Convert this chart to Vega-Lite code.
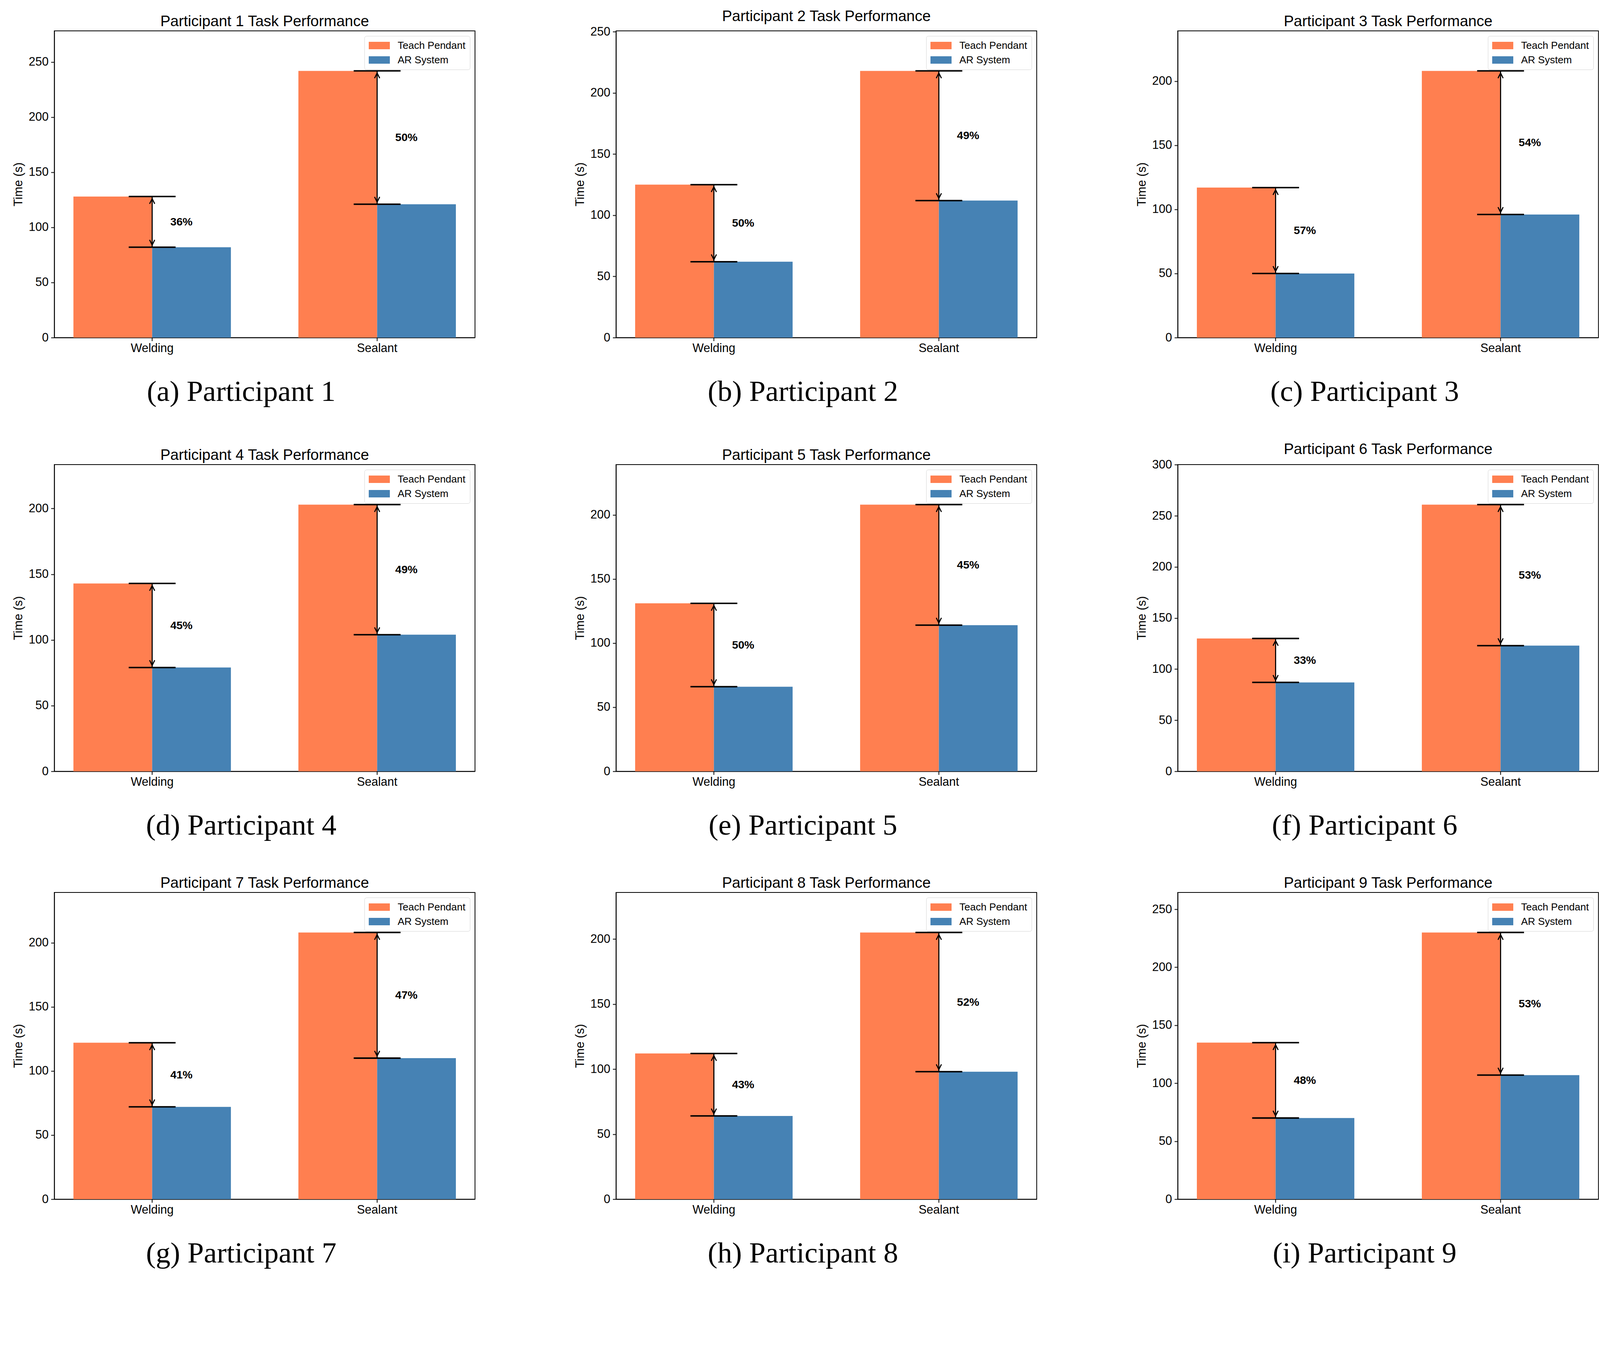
{
  "$schema": "https://vega.github.io/schema/vega-lite/v6.json",
  "background": "white",
  "padding": {"left": 30, "top": 21, "right": 5, "bottom": 5},
  "datasets": {
    "times": [
      {"participant": 1, "task": "Welding", "method": "Teach Pendant", "time": 128},
      {"participant": 1, "task": "Welding", "method": "AR System", "time": 82, "reduction": 0.36},
      {"participant": 1, "task": "Sealant", "method": "Teach Pendant", "time": 242},
      {"participant": 1, "task": "Sealant", "method": "AR System", "time": 121, "reduction": 0.50},
      {"participant": 2, "task": "Welding", "method": "Teach Pendant", "time": 125},
      {"participant": 2, "task": "Welding", "method": "AR System", "time": 62, "reduction": 0.50},
      {"participant": 2, "task": "Sealant", "method": "Teach Pendant", "time": 218},
      {"participant": 2, "task": "Sealant", "method": "AR System", "time": 112, "reduction": 0.49},
      {"participant": 3, "task": "Welding", "method": "Teach Pendant", "time": 117},
      {"participant": 3, "task": "Welding", "method": "AR System", "time": 50, "reduction": 0.57},
      {"participant": 3, "task": "Sealant", "method": "Teach Pendant", "time": 208},
      {"participant": 3, "task": "Sealant", "method": "AR System", "time": 96, "reduction": 0.54},
      {"participant": 4, "task": "Welding", "method": "Teach Pendant", "time": 143},
      {"participant": 4, "task": "Welding", "method": "AR System", "time": 79, "reduction": 0.45},
      {"participant": 4, "task": "Sealant", "method": "Teach Pendant", "time": 203},
      {"participant": 4, "task": "Sealant", "method": "AR System", "time": 104, "reduction": 0.49},
      {"participant": 5, "task": "Welding", "method": "Teach Pendant", "time": 131},
      {"participant": 5, "task": "Welding", "method": "AR System", "time": 66, "reduction": 0.50},
      {"participant": 5, "task": "Sealant", "method": "Teach Pendant", "time": 208},
      {"participant": 5, "task": "Sealant", "method": "AR System", "time": 114, "reduction": 0.45},
      {"participant": 6, "task": "Welding", "method": "Teach Pendant", "time": 130},
      {"participant": 6, "task": "Welding", "method": "AR System", "time": 87, "reduction": 0.33},
      {"participant": 6, "task": "Sealant", "method": "Teach Pendant", "time": 261},
      {"participant": 6, "task": "Sealant", "method": "AR System", "time": 123, "reduction": 0.53},
      {"participant": 7, "task": "Welding", "method": "Teach Pendant", "time": 122},
      {"participant": 7, "task": "Welding", "method": "AR System", "time": 72, "reduction": 0.41},
      {"participant": 7, "task": "Sealant", "method": "Teach Pendant", "time": 208},
      {"participant": 7, "task": "Sealant", "method": "AR System", "time": 110, "reduction": 0.47},
      {"participant": 8, "task": "Welding", "method": "Teach Pendant", "time": 112},
      {"participant": 8, "task": "Welding", "method": "AR System", "time": 64, "reduction": 0.43},
      {"participant": 8, "task": "Sealant", "method": "Teach Pendant", "time": 205},
      {"participant": 8, "task": "Sealant", "method": "AR System", "time": 98, "reduction": 0.52},
      {"participant": 9, "task": "Welding", "method": "Teach Pendant", "time": 135},
      {"participant": 9, "task": "Welding", "method": "AR System", "time": 70, "reduction": 0.48},
      {"participant": 9, "task": "Sealant", "method": "Teach Pendant", "time": 230},
      {"participant": 9, "task": "Sealant", "method": "AR System", "time": 107, "reduction": 0.53}
    ]
  },
  "columns": 3,
  "spacing": {"row": 87, "column": 251},
  "resolve": {
    "scale": {"x": "independent", "y": "independent", "color": "independent"},
    "legend": {"color": "independent"}
  },
  "concat": [
    {
      "width": 1077, "height": 785,
      "title": "Participant 1 Task Performance",
      "data": {"name": "times"},
      "transform": [{"filter": "datum.participant == 1"}],
      "layer": [
        {"mark": "bar", "encoding": {
          "x": {"field": "task", "type": "nominal", "sort": ["Welding", "Sealant"], "scale": {"paddingInner": 0.3, "paddingOuter": 0.085}, "axis": {"title": "(a) Participant 1"}},
          "xOffset": {"field": "method", "sort": ["Teach Pendant", "AR System"], "scale": {"paddingInner": 0, "paddingOuter": 0}},
          "y": {"field": "time", "type": "quantitative", "scale": {"domain": [0, 278.3], "nice": false}, "axis": {"title": "Time (s)", "values": [0, 50, 100, 150, 200, 250, 300]}},
          "color": {"field": "method", "type": "nominal", "scale": {"domain": ["Teach Pendant", "AR System"], "range": ["#FF7F50", "#4682B4"]}, "legend": {"title": null, "orient": "top-right", "offset": 13, "symbolType": "M-1,-0.7H3V0.7H-1Z", "symbolSize": 729, "symbolStrokeWidth": 0, "symbolOpacity": 1, "labelFontSize": 26, "labelLimit": 400, "labelColor": "black", "labelOffset": 47, "fillColor": "white", "strokeColor": "#d4d4d4", "cornerRadius": 5, "padding": 11, "rowPadding": 10}}
        }},
        {"mark": {"type": "tick", "size": 120, "thickness": 3.8, "color": "black", "opacity": 1}, "encoding": {
          "x": {"field": "task", "type": "nominal", "sort": ["Welding", "Sealant"]},
          "y": {"field": "time", "type": "quantitative"}
        }},
        {
          "transform": [{"aggregate": [{"op": "max", "field": "time", "as": "hi"}, {"op": "min", "field": "time", "as": "lo"}, {"op": "mean", "field": "time", "as": "mid"}, {"op": "max", "field": "reduction", "as": "reduction"}], "groupby": ["task"]}],
          "encoding": {"x": {"field": "task", "type": "nominal", "sort": ["Welding", "Sealant"], "bandPosition": 0.5}},
          "layer": [
            {"mark": {"type": "rule", "strokeWidth": 2.8, "color": "black"}, "encoding": {"y": {"field": "hi", "type": "quantitative"}, "y2": {"field": "lo"}}},
            {"mark": {"type": "point", "shape": "M-0.5,1L0,0L0.5,1", "size": 690, "filled": false, "stroke": "black", "strokeWidth": 2.8, "opacity": 1, "yOffset": 5.6}, "encoding": {"y": {"field": "hi", "type": "quantitative"}}},
            {"mark": {"type": "point", "shape": "M-0.5,-1L0,0L0.5,-1", "size": 690, "filled": false, "stroke": "black", "strokeWidth": 2.8, "opacity": 1, "yOffset": -5.6}, "encoding": {"y": {"field": "lo", "type": "quantitative"}}},
            {"mark": {"type": "text", "align": "left", "baseline": "middle", "fontWeight": "bold", "fontSize": 28.5, "color": "black"}, "encoding": {
              "x": {"field": "task", "type": "nominal", "sort": ["Welding", "Sealant"], "bandPosition": 0.615},
              "y": {"field": "mid", "type": "quantitative"},
              "text": {"field": "reduction", "type": "quantitative", "format": ".0%"}
            }}
          ]
        }
      ]
    },
    {
      "width": 1077, "height": 785,
      "title": "Participant 2 Task Performance",
      "data": {"name": "times"},
      "transform": [{"filter": "datum.participant == 2"}],
      "layer": [
        {"mark": "bar", "encoding": {
          "x": {"field": "task", "type": "nominal", "sort": ["Welding", "Sealant"], "scale": {"paddingInner": 0.3, "paddingOuter": 0.085}, "axis": {"title": "(b) Participant 2"}},
          "xOffset": {"field": "method", "sort": ["Teach Pendant", "AR System"], "scale": {"paddingInner": 0, "paddingOuter": 0}},
          "y": {"field": "time", "type": "quantitative", "scale": {"domain": [0, 250.7], "nice": false}, "axis": {"title": "Time (s)", "values": [0, 50, 100, 150, 200, 250, 300]}},
          "color": {"field": "method", "type": "nominal", "scale": {"domain": ["Teach Pendant", "AR System"], "range": ["#FF7F50", "#4682B4"]}, "legend": {"title": null, "orient": "top-right", "offset": 13, "symbolType": "M-1,-0.7H3V0.7H-1Z", "symbolSize": 729, "symbolStrokeWidth": 0, "symbolOpacity": 1, "labelFontSize": 26, "labelLimit": 400, "labelColor": "black", "labelOffset": 47, "fillColor": "white", "strokeColor": "#d4d4d4", "cornerRadius": 5, "padding": 11, "rowPadding": 10}}
        }},
        {"mark": {"type": "tick", "size": 120, "thickness": 3.8, "color": "black", "opacity": 1}, "encoding": {
          "x": {"field": "task", "type": "nominal", "sort": ["Welding", "Sealant"]},
          "y": {"field": "time", "type": "quantitative"}
        }},
        {
          "transform": [{"aggregate": [{"op": "max", "field": "time", "as": "hi"}, {"op": "min", "field": "time", "as": "lo"}, {"op": "mean", "field": "time", "as": "mid"}, {"op": "max", "field": "reduction", "as": "reduction"}], "groupby": ["task"]}],
          "encoding": {"x": {"field": "task", "type": "nominal", "sort": ["Welding", "Sealant"], "bandPosition": 0.5}},
          "layer": [
            {"mark": {"type": "rule", "strokeWidth": 2.8, "color": "black"}, "encoding": {"y": {"field": "hi", "type": "quantitative"}, "y2": {"field": "lo"}}},
            {"mark": {"type": "point", "shape": "M-0.5,1L0,0L0.5,1", "size": 690, "filled": false, "stroke": "black", "strokeWidth": 2.8, "opacity": 1, "yOffset": 5.6}, "encoding": {"y": {"field": "hi", "type": "quantitative"}}},
            {"mark": {"type": "point", "shape": "M-0.5,-1L0,0L0.5,-1", "size": 690, "filled": false, "stroke": "black", "strokeWidth": 2.8, "opacity": 1, "yOffset": -5.6}, "encoding": {"y": {"field": "lo", "type": "quantitative"}}},
            {"mark": {"type": "text", "align": "left", "baseline": "middle", "fontWeight": "bold", "fontSize": 28.5, "color": "black"}, "encoding": {
              "x": {"field": "task", "type": "nominal", "sort": ["Welding", "Sealant"], "bandPosition": 0.615},
              "y": {"field": "mid", "type": "quantitative"},
              "text": {"field": "reduction", "type": "quantitative", "format": ".0%"}
            }}
          ]
        }
      ]
    },
    {
      "width": 1077, "height": 785,
      "title": "Participant 3 Task Performance",
      "data": {"name": "times"},
      "transform": [{"filter": "datum.participant == 3"}],
      "layer": [
        {"mark": "bar", "encoding": {
          "x": {"field": "task", "type": "nominal", "sort": ["Welding", "Sealant"], "scale": {"paddingInner": 0.3, "paddingOuter": 0.085}, "axis": {"title": "(c) Participant 3"}},
          "xOffset": {"field": "method", "sort": ["Teach Pendant", "AR System"], "scale": {"paddingInner": 0, "paddingOuter": 0}},
          "y": {"field": "time", "type": "quantitative", "scale": {"domain": [0, 239.2], "nice": false}, "axis": {"title": "Time (s)", "values": [0, 50, 100, 150, 200, 250, 300]}},
          "color": {"field": "method", "type": "nominal", "scale": {"domain": ["Teach Pendant", "AR System"], "range": ["#FF7F50", "#4682B4"]}, "legend": {"title": null, "orient": "top-right", "offset": 13, "symbolType": "M-1,-0.7H3V0.7H-1Z", "symbolSize": 729, "symbolStrokeWidth": 0, "symbolOpacity": 1, "labelFontSize": 26, "labelLimit": 400, "labelColor": "black", "labelOffset": 47, "fillColor": "white", "strokeColor": "#d4d4d4", "cornerRadius": 5, "padding": 11, "rowPadding": 10}}
        }},
        {"mark": {"type": "tick", "size": 120, "thickness": 3.8, "color": "black", "opacity": 1}, "encoding": {
          "x": {"field": "task", "type": "nominal", "sort": ["Welding", "Sealant"]},
          "y": {"field": "time", "type": "quantitative"}
        }},
        {
          "transform": [{"aggregate": [{"op": "max", "field": "time", "as": "hi"}, {"op": "min", "field": "time", "as": "lo"}, {"op": "mean", "field": "time", "as": "mid"}, {"op": "max", "field": "reduction", "as": "reduction"}], "groupby": ["task"]}],
          "encoding": {"x": {"field": "task", "type": "nominal", "sort": ["Welding", "Sealant"], "bandPosition": 0.5}},
          "layer": [
            {"mark": {"type": "rule", "strokeWidth": 2.8, "color": "black"}, "encoding": {"y": {"field": "hi", "type": "quantitative"}, "y2": {"field": "lo"}}},
            {"mark": {"type": "point", "shape": "M-0.5,1L0,0L0.5,1", "size": 690, "filled": false, "stroke": "black", "strokeWidth": 2.8, "opacity": 1, "yOffset": 5.6}, "encoding": {"y": {"field": "hi", "type": "quantitative"}}},
            {"mark": {"type": "point", "shape": "M-0.5,-1L0,0L0.5,-1", "size": 690, "filled": false, "stroke": "black", "strokeWidth": 2.8, "opacity": 1, "yOffset": -5.6}, "encoding": {"y": {"field": "lo", "type": "quantitative"}}},
            {"mark": {"type": "text", "align": "left", "baseline": "middle", "fontWeight": "bold", "fontSize": 28.5, "color": "black"}, "encoding": {
              "x": {"field": "task", "type": "nominal", "sort": ["Welding", "Sealant"], "bandPosition": 0.615},
              "y": {"field": "mid", "type": "quantitative"},
              "text": {"field": "reduction", "type": "quantitative", "format": ".0%"}
            }}
          ]
        }
      ]
    },
    {
      "width": 1077, "height": 785,
      "title": "Participant 4 Task Performance",
      "data": {"name": "times"},
      "transform": [{"filter": "datum.participant == 4"}],
      "layer": [
        {"mark": "bar", "encoding": {
          "x": {"field": "task", "type": "nominal", "sort": ["Welding", "Sealant"], "scale": {"paddingInner": 0.3, "paddingOuter": 0.085}, "axis": {"title": "(d) Participant 4"}},
          "xOffset": {"field": "method", "sort": ["Teach Pendant", "AR System"], "scale": {"paddingInner": 0, "paddingOuter": 0}},
          "y": {"field": "time", "type": "quantitative", "scale": {"domain": [0, 233.45], "nice": false}, "axis": {"title": "Time (s)", "values": [0, 50, 100, 150, 200, 250, 300]}},
          "color": {"field": "method", "type": "nominal", "scale": {"domain": ["Teach Pendant", "AR System"], "range": ["#FF7F50", "#4682B4"]}, "legend": {"title": null, "orient": "top-right", "offset": 13, "symbolType": "M-1,-0.7H3V0.7H-1Z", "symbolSize": 729, "symbolStrokeWidth": 0, "symbolOpacity": 1, "labelFontSize": 26, "labelLimit": 400, "labelColor": "black", "labelOffset": 47, "fillColor": "white", "strokeColor": "#d4d4d4", "cornerRadius": 5, "padding": 11, "rowPadding": 10}}
        }},
        {"mark": {"type": "tick", "size": 120, "thickness": 3.8, "color": "black", "opacity": 1}, "encoding": {
          "x": {"field": "task", "type": "nominal", "sort": ["Welding", "Sealant"]},
          "y": {"field": "time", "type": "quantitative"}
        }},
        {
          "transform": [{"aggregate": [{"op": "max", "field": "time", "as": "hi"}, {"op": "min", "field": "time", "as": "lo"}, {"op": "mean", "field": "time", "as": "mid"}, {"op": "max", "field": "reduction", "as": "reduction"}], "groupby": ["task"]}],
          "encoding": {"x": {"field": "task", "type": "nominal", "sort": ["Welding", "Sealant"], "bandPosition": 0.5}},
          "layer": [
            {"mark": {"type": "rule", "strokeWidth": 2.8, "color": "black"}, "encoding": {"y": {"field": "hi", "type": "quantitative"}, "y2": {"field": "lo"}}},
            {"mark": {"type": "point", "shape": "M-0.5,1L0,0L0.5,1", "size": 690, "filled": false, "stroke": "black", "strokeWidth": 2.8, "opacity": 1, "yOffset": 5.6}, "encoding": {"y": {"field": "hi", "type": "quantitative"}}},
            {"mark": {"type": "point", "shape": "M-0.5,-1L0,0L0.5,-1", "size": 690, "filled": false, "stroke": "black", "strokeWidth": 2.8, "opacity": 1, "yOffset": -5.6}, "encoding": {"y": {"field": "lo", "type": "quantitative"}}},
            {"mark": {"type": "text", "align": "left", "baseline": "middle", "fontWeight": "bold", "fontSize": 28.5, "color": "black"}, "encoding": {
              "x": {"field": "task", "type": "nominal", "sort": ["Welding", "Sealant"], "bandPosition": 0.615},
              "y": {"field": "mid", "type": "quantitative"},
              "text": {"field": "reduction", "type": "quantitative", "format": ".0%"}
            }}
          ]
        }
      ]
    },
    {
      "width": 1077, "height": 785,
      "title": "Participant 5 Task Performance",
      "data": {"name": "times"},
      "transform": [{"filter": "datum.participant == 5"}],
      "layer": [
        {"mark": "bar", "encoding": {
          "x": {"field": "task", "type": "nominal", "sort": ["Welding", "Sealant"], "scale": {"paddingInner": 0.3, "paddingOuter": 0.085}, "axis": {"title": "(e) Participant 5"}},
          "xOffset": {"field": "method", "sort": ["Teach Pendant", "AR System"], "scale": {"paddingInner": 0, "paddingOuter": 0}},
          "y": {"field": "time", "type": "quantitative", "scale": {"domain": [0, 239.2], "nice": false}, "axis": {"title": "Time (s)", "values": [0, 50, 100, 150, 200, 250, 300]}},
          "color": {"field": "method", "type": "nominal", "scale": {"domain": ["Teach Pendant", "AR System"], "range": ["#FF7F50", "#4682B4"]}, "legend": {"title": null, "orient": "top-right", "offset": 13, "symbolType": "M-1,-0.7H3V0.7H-1Z", "symbolSize": 729, "symbolStrokeWidth": 0, "symbolOpacity": 1, "labelFontSize": 26, "labelLimit": 400, "labelColor": "black", "labelOffset": 47, "fillColor": "white", "strokeColor": "#d4d4d4", "cornerRadius": 5, "padding": 11, "rowPadding": 10}}
        }},
        {"mark": {"type": "tick", "size": 120, "thickness": 3.8, "color": "black", "opacity": 1}, "encoding": {
          "x": {"field": "task", "type": "nominal", "sort": ["Welding", "Sealant"]},
          "y": {"field": "time", "type": "quantitative"}
        }},
        {
          "transform": [{"aggregate": [{"op": "max", "field": "time", "as": "hi"}, {"op": "min", "field": "time", "as": "lo"}, {"op": "mean", "field": "time", "as": "mid"}, {"op": "max", "field": "reduction", "as": "reduction"}], "groupby": ["task"]}],
          "encoding": {"x": {"field": "task", "type": "nominal", "sort": ["Welding", "Sealant"], "bandPosition": 0.5}},
          "layer": [
            {"mark": {"type": "rule", "strokeWidth": 2.8, "color": "black"}, "encoding": {"y": {"field": "hi", "type": "quantitative"}, "y2": {"field": "lo"}}},
            {"mark": {"type": "point", "shape": "M-0.5,1L0,0L0.5,1", "size": 690, "filled": false, "stroke": "black", "strokeWidth": 2.8, "opacity": 1, "yOffset": 5.6}, "encoding": {"y": {"field": "hi", "type": "quantitative"}}},
            {"mark": {"type": "point", "shape": "M-0.5,-1L0,0L0.5,-1", "size": 690, "filled": false, "stroke": "black", "strokeWidth": 2.8, "opacity": 1, "yOffset": -5.6}, "encoding": {"y": {"field": "lo", "type": "quantitative"}}},
            {"mark": {"type": "text", "align": "left", "baseline": "middle", "fontWeight": "bold", "fontSize": 28.5, "color": "black"}, "encoding": {
              "x": {"field": "task", "type": "nominal", "sort": ["Welding", "Sealant"], "bandPosition": 0.615},
              "y": {"field": "mid", "type": "quantitative"},
              "text": {"field": "reduction", "type": "quantitative", "format": ".0%"}
            }}
          ]
        }
      ]
    },
    {
      "width": 1077, "height": 785,
      "title": "Participant 6 Task Performance",
      "data": {"name": "times"},
      "transform": [{"filter": "datum.participant == 6"}],
      "layer": [
        {"mark": "bar", "encoding": {
          "x": {"field": "task", "type": "nominal", "sort": ["Welding", "Sealant"], "scale": {"paddingInner": 0.3, "paddingOuter": 0.085}, "axis": {"title": "(f) Participant 6"}},
          "xOffset": {"field": "method", "sort": ["Teach Pendant", "AR System"], "scale": {"paddingInner": 0, "paddingOuter": 0}},
          "y": {"field": "time", "type": "quantitative", "scale": {"domain": [0, 300.15], "nice": false}, "axis": {"title": "Time (s)", "values": [0, 50, 100, 150, 200, 250, 300]}},
          "color": {"field": "method", "type": "nominal", "scale": {"domain": ["Teach Pendant", "AR System"], "range": ["#FF7F50", "#4682B4"]}, "legend": {"title": null, "orient": "top-right", "offset": 13, "symbolType": "M-1,-0.7H3V0.7H-1Z", "symbolSize": 729, "symbolStrokeWidth": 0, "symbolOpacity": 1, "labelFontSize": 26, "labelLimit": 400, "labelColor": "black", "labelOffset": 47, "fillColor": "white", "strokeColor": "#d4d4d4", "cornerRadius": 5, "padding": 11, "rowPadding": 10}}
        }},
        {"mark": {"type": "tick", "size": 120, "thickness": 3.8, "color": "black", "opacity": 1}, "encoding": {
          "x": {"field": "task", "type": "nominal", "sort": ["Welding", "Sealant"]},
          "y": {"field": "time", "type": "quantitative"}
        }},
        {
          "transform": [{"aggregate": [{"op": "max", "field": "time", "as": "hi"}, {"op": "min", "field": "time", "as": "lo"}, {"op": "mean", "field": "time", "as": "mid"}, {"op": "max", "field": "reduction", "as": "reduction"}], "groupby": ["task"]}],
          "encoding": {"x": {"field": "task", "type": "nominal", "sort": ["Welding", "Sealant"], "bandPosition": 0.5}},
          "layer": [
            {"mark": {"type": "rule", "strokeWidth": 2.8, "color": "black"}, "encoding": {"y": {"field": "hi", "type": "quantitative"}, "y2": {"field": "lo"}}},
            {"mark": {"type": "point", "shape": "M-0.5,1L0,0L0.5,1", "size": 690, "filled": false, "stroke": "black", "strokeWidth": 2.8, "opacity": 1, "yOffset": 5.6}, "encoding": {"y": {"field": "hi", "type": "quantitative"}}},
            {"mark": {"type": "point", "shape": "M-0.5,-1L0,0L0.5,-1", "size": 690, "filled": false, "stroke": "black", "strokeWidth": 2.8, "opacity": 1, "yOffset": -5.6}, "encoding": {"y": {"field": "lo", "type": "quantitative"}}},
            {"mark": {"type": "text", "align": "left", "baseline": "middle", "fontWeight": "bold", "fontSize": 28.5, "color": "black"}, "encoding": {
              "x": {"field": "task", "type": "nominal", "sort": ["Welding", "Sealant"], "bandPosition": 0.615},
              "y": {"field": "mid", "type": "quantitative"},
              "text": {"field": "reduction", "type": "quantitative", "format": ".0%"}
            }}
          ]
        }
      ]
    },
    {
      "width": 1077, "height": 785,
      "title": "Participant 7 Task Performance",
      "data": {"name": "times"},
      "transform": [{"filter": "datum.participant == 7"}],
      "layer": [
        {"mark": "bar", "encoding": {
          "x": {"field": "task", "type": "nominal", "sort": ["Welding", "Sealant"], "scale": {"paddingInner": 0.3, "paddingOuter": 0.085}, "axis": {"title": "(g) Participant 7"}},
          "xOffset": {"field": "method", "sort": ["Teach Pendant", "AR System"], "scale": {"paddingInner": 0, "paddingOuter": 0}},
          "y": {"field": "time", "type": "quantitative", "scale": {"domain": [0, 239.2], "nice": false}, "axis": {"title": "Time (s)", "values": [0, 50, 100, 150, 200, 250, 300]}},
          "color": {"field": "method", "type": "nominal", "scale": {"domain": ["Teach Pendant", "AR System"], "range": ["#FF7F50", "#4682B4"]}, "legend": {"title": null, "orient": "top-right", "offset": 13, "symbolType": "M-1,-0.7H3V0.7H-1Z", "symbolSize": 729, "symbolStrokeWidth": 0, "symbolOpacity": 1, "labelFontSize": 26, "labelLimit": 400, "labelColor": "black", "labelOffset": 47, "fillColor": "white", "strokeColor": "#d4d4d4", "cornerRadius": 5, "padding": 11, "rowPadding": 10}}
        }},
        {"mark": {"type": "tick", "size": 120, "thickness": 3.8, "color": "black", "opacity": 1}, "encoding": {
          "x": {"field": "task", "type": "nominal", "sort": ["Welding", "Sealant"]},
          "y": {"field": "time", "type": "quantitative"}
        }},
        {
          "transform": [{"aggregate": [{"op": "max", "field": "time", "as": "hi"}, {"op": "min", "field": "time", "as": "lo"}, {"op": "mean", "field": "time", "as": "mid"}, {"op": "max", "field": "reduction", "as": "reduction"}], "groupby": ["task"]}],
          "encoding": {"x": {"field": "task", "type": "nominal", "sort": ["Welding", "Sealant"], "bandPosition": 0.5}},
          "layer": [
            {"mark": {"type": "rule", "strokeWidth": 2.8, "color": "black"}, "encoding": {"y": {"field": "hi", "type": "quantitative"}, "y2": {"field": "lo"}}},
            {"mark": {"type": "point", "shape": "M-0.5,1L0,0L0.5,1", "size": 690, "filled": false, "stroke": "black", "strokeWidth": 2.8, "opacity": 1, "yOffset": 5.6}, "encoding": {"y": {"field": "hi", "type": "quantitative"}}},
            {"mark": {"type": "point", "shape": "M-0.5,-1L0,0L0.5,-1", "size": 690, "filled": false, "stroke": "black", "strokeWidth": 2.8, "opacity": 1, "yOffset": -5.6}, "encoding": {"y": {"field": "lo", "type": "quantitative"}}},
            {"mark": {"type": "text", "align": "left", "baseline": "middle", "fontWeight": "bold", "fontSize": 28.5, "color": "black"}, "encoding": {
              "x": {"field": "task", "type": "nominal", "sort": ["Welding", "Sealant"], "bandPosition": 0.615},
              "y": {"field": "mid", "type": "quantitative"},
              "text": {"field": "reduction", "type": "quantitative", "format": ".0%"}
            }}
          ]
        }
      ]
    },
    {
      "width": 1077, "height": 785,
      "title": "Participant 8 Task Performance",
      "data": {"name": "times"},
      "transform": [{"filter": "datum.participant == 8"}],
      "layer": [
        {"mark": "bar", "encoding": {
          "x": {"field": "task", "type": "nominal", "sort": ["Welding", "Sealant"], "scale": {"paddingInner": 0.3, "paddingOuter": 0.085}, "axis": {"title": "(h) Participant 8"}},
          "xOffset": {"field": "method", "sort": ["Teach Pendant", "AR System"], "scale": {"paddingInner": 0, "paddingOuter": 0}},
          "y": {"field": "time", "type": "quantitative", "scale": {"domain": [0, 235.75], "nice": false}, "axis": {"title": "Time (s)", "values": [0, 50, 100, 150, 200, 250, 300]}},
          "color": {"field": "method", "type": "nominal", "scale": {"domain": ["Teach Pendant", "AR System"], "range": ["#FF7F50", "#4682B4"]}, "legend": {"title": null, "orient": "top-right", "offset": 13, "symbolType": "M-1,-0.7H3V0.7H-1Z", "symbolSize": 729, "symbolStrokeWidth": 0, "symbolOpacity": 1, "labelFontSize": 26, "labelLimit": 400, "labelColor": "black", "labelOffset": 47, "fillColor": "white", "strokeColor": "#d4d4d4", "cornerRadius": 5, "padding": 11, "rowPadding": 10}}
        }},
        {"mark": {"type": "tick", "size": 120, "thickness": 3.8, "color": "black", "opacity": 1}, "encoding": {
          "x": {"field": "task", "type": "nominal", "sort": ["Welding", "Sealant"]},
          "y": {"field": "time", "type": "quantitative"}
        }},
        {
          "transform": [{"aggregate": [{"op": "max", "field": "time", "as": "hi"}, {"op": "min", "field": "time", "as": "lo"}, {"op": "mean", "field": "time", "as": "mid"}, {"op": "max", "field": "reduction", "as": "reduction"}], "groupby": ["task"]}],
          "encoding": {"x": {"field": "task", "type": "nominal", "sort": ["Welding", "Sealant"], "bandPosition": 0.5}},
          "layer": [
            {"mark": {"type": "rule", "strokeWidth": 2.8, "color": "black"}, "encoding": {"y": {"field": "hi", "type": "quantitative"}, "y2": {"field": "lo"}}},
            {"mark": {"type": "point", "shape": "M-0.5,1L0,0L0.5,1", "size": 690, "filled": false, "stroke": "black", "strokeWidth": 2.8, "opacity": 1, "yOffset": 5.6}, "encoding": {"y": {"field": "hi", "type": "quantitative"}}},
            {"mark": {"type": "point", "shape": "M-0.5,-1L0,0L0.5,-1", "size": 690, "filled": false, "stroke": "black", "strokeWidth": 2.8, "opacity": 1, "yOffset": -5.6}, "encoding": {"y": {"field": "lo", "type": "quantitative"}}},
            {"mark": {"type": "text", "align": "left", "baseline": "middle", "fontWeight": "bold", "fontSize": 28.5, "color": "black"}, "encoding": {
              "x": {"field": "task", "type": "nominal", "sort": ["Welding", "Sealant"], "bandPosition": 0.615},
              "y": {"field": "mid", "type": "quantitative"},
              "text": {"field": "reduction", "type": "quantitative", "format": ".0%"}
            }}
          ]
        }
      ]
    },
    {
      "width": 1077, "height": 785,
      "title": "Participant 9 Task Performance",
      "data": {"name": "times"},
      "transform": [{"filter": "datum.participant == 9"}],
      "layer": [
        {"mark": "bar", "encoding": {
          "x": {"field": "task", "type": "nominal", "sort": ["Welding", "Sealant"], "scale": {"paddingInner": 0.3, "paddingOuter": 0.085}, "axis": {"title": "(i) Participant 9"}},
          "xOffset": {"field": "method", "sort": ["Teach Pendant", "AR System"], "scale": {"paddingInner": 0, "paddingOuter": 0}},
          "y": {"field": "time", "type": "quantitative", "scale": {"domain": [0, 264.5], "nice": false}, "axis": {"title": "Time (s)", "values": [0, 50, 100, 150, 200, 250, 300]}},
          "color": {"field": "method", "type": "nominal", "scale": {"domain": ["Teach Pendant", "AR System"], "range": ["#FF7F50", "#4682B4"]}, "legend": {"title": null, "orient": "top-right", "offset": 13, "symbolType": "M-1,-0.7H3V0.7H-1Z", "symbolSize": 729, "symbolStrokeWidth": 0, "symbolOpacity": 1, "labelFontSize": 26, "labelLimit": 400, "labelColor": "black", "labelOffset": 47, "fillColor": "white", "strokeColor": "#d4d4d4", "cornerRadius": 5, "padding": 11, "rowPadding": 10}}
        }},
        {"mark": {"type": "tick", "size": 120, "thickness": 3.8, "color": "black", "opacity": 1}, "encoding": {
          "x": {"field": "task", "type": "nominal", "sort": ["Welding", "Sealant"]},
          "y": {"field": "time", "type": "quantitative"}
        }},
        {
          "transform": [{"aggregate": [{"op": "max", "field": "time", "as": "hi"}, {"op": "min", "field": "time", "as": "lo"}, {"op": "mean", "field": "time", "as": "mid"}, {"op": "max", "field": "reduction", "as": "reduction"}], "groupby": ["task"]}],
          "encoding": {"x": {"field": "task", "type": "nominal", "sort": ["Welding", "Sealant"], "bandPosition": 0.5}},
          "layer": [
            {"mark": {"type": "rule", "strokeWidth": 2.8, "color": "black"}, "encoding": {"y": {"field": "hi", "type": "quantitative"}, "y2": {"field": "lo"}}},
            {"mark": {"type": "point", "shape": "M-0.5,1L0,0L0.5,1", "size": 690, "filled": false, "stroke": "black", "strokeWidth": 2.8, "opacity": 1, "yOffset": 5.6}, "encoding": {"y": {"field": "hi", "type": "quantitative"}}},
            {"mark": {"type": "point", "shape": "M-0.5,-1L0,0L0.5,-1", "size": 690, "filled": false, "stroke": "black", "strokeWidth": 2.8, "opacity": 1, "yOffset": -5.6}, "encoding": {"y": {"field": "lo", "type": "quantitative"}}},
            {"mark": {"type": "text", "align": "left", "baseline": "middle", "fontWeight": "bold", "fontSize": 28.5, "color": "black"}, "encoding": {
              "x": {"field": "task", "type": "nominal", "sort": ["Welding", "Sealant"], "bandPosition": 0.615},
              "y": {"field": "mid", "type": "quantitative"},
              "text": {"field": "reduction", "type": "quantitative", "format": ".0%"}
            }}
          ]
        }
      ]
    }
  ],
  "config": {
    "font": "Liberation Sans",
    "view": {"stroke": "black", "strokeWidth": 2},
    "title": {"fontSize": 38.5, "fontWeight": "normal", "color": "black", "offset": 4, "anchor": "middle", "frame": "group"},
    "axis": {"grid": false, "domainColor": "black", "domainWidth": 2, "tickColor": "black", "tickWidth": 2, "tickSize": 8.5, "labelColor": "black", "labelFontSize": 30.5, "labelPadding": 6.5, "titleColor": "black", "titleFontWeight": "normal"},
    "axisX": {"labelAngle": 0, "labelPadding": 3.5, "titleFont": "Liberation Serif", "titleFontSize": 75, "titlePadding": 60, "titleX": 478},
    "axisY": {"titleFontSize": 31, "titlePadding": 10}
  }
}
